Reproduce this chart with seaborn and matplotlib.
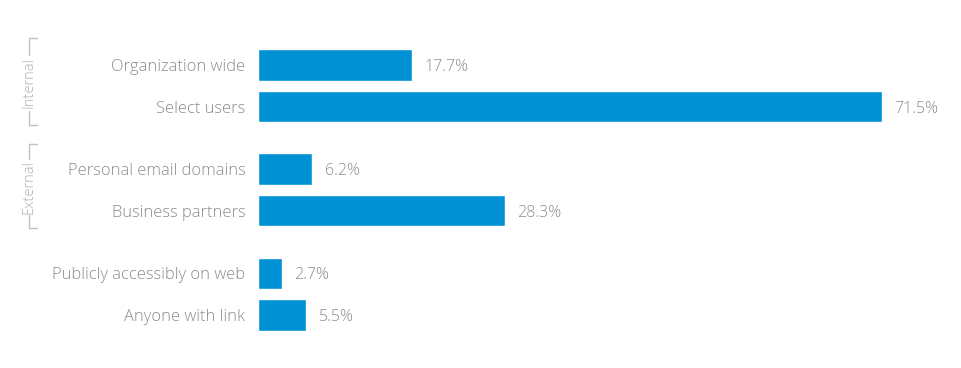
import numpy as np
import pandas as pd
import seaborn as sns
import matplotlib.pyplot as plt
from matplotlib.lines import Line2D

sns.set_style("white")
plt.rcParams['font.family'] = ['Open Sans', 'DejaVu Sans']
plt.rcParams['font.weight'] = 'light'

categories = ['Organization wide', 'Select users', 'Personal email domains',
              'Business partners', 'Publicly accessibly on web', 'Anyone with link']
values = [17.7, 71.5, 6.2, 28.3, 2.7, 5.5]
positions = [0, 1, 2.5, 3.5, 5, 6]
groups = [('Internal', 38, 125, 83), ('External', 144, 228, 187)]

df = pd.DataFrame({'label': categories, 'value': values, 'pos': positions})

W, H = 961, 368
fig = plt.figure(figsize=(W / 100, H / 100), dpi=100)
ax = fig.add_axes([258 / W, (H - 335.8) / H, 698 / W, 291.7 / H])

sns.barplot(data=df, x='value', y='pos', orient='h', native_scale=True,
            color='#0090d4', saturation=1, width=0.75, ax=ax)
ax.set_xlim(0, 80)
ax.set_ylim(6.5, -0.5)
ax.set_yticks(positions)
ax.set_yticklabels(categories, color='#8c8c8c', fontsize=11.9)
ax.tick_params(axis='y', length=0, pad=9)
ax.set_xticks([])
ax.set_xlabel('')
ax.set_ylabel('')
sns.despine(ax=ax, left=True, bottom=True)

for v, p in zip(values, positions):
    ax.annotate(f'{v}%', (v, p), xytext=(9, 0), textcoords='offset points',
                va='center_baseline', ha='left', color='#8c8c8c', fontsize=11.5)

# group brackets on the left
bc = '#c0c0c0'
x0, x1 = 29 / W, 37 / W
for name, top, bot, mid in groups:
    yt, yb, ym = 1 - top / H, 1 - bot / H, 1 - mid / H
    half = 28 / H
    for a, b in [(yt, ym + half), (ym - half, yb)]:
        fig.add_artist(Line2D([x0, x0], [a, b], color=bc, lw=1))
    fig.add_artist(Line2D([x0, x1], [yt, yt], color=bc, lw=1))
    fig.add_artist(Line2D([x0, x1], [yb, yb], color=bc, lw=1))
    fig.text(x0, ym, name, rotation=90, ha='center', va='center',
             color='#b0b0b0', fontsize=10.5)

fig.savefig('out.png', dpi=100)
